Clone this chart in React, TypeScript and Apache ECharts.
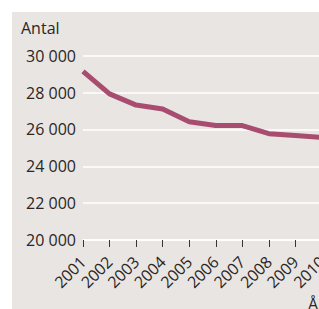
import React, { useEffect, useRef } from "react";
import * as echarts from "echarts";

const years = ["2001", "2002", "2003", "2004", "2005", "2006", "2007", "2008", "2009", "2010"];
const antal = [29150, 27930, 27320, 27110, 26420, 26210, 26210, 25770, 25670, 25560];
const yTicks = [20000, 22000, 24000, 26000, 28000, 30000];

const FONT = "'Open Sans', 'Noto Sans', sans-serif";
const TEXT = "#2b2523";

export default function App() {
  const ref = useRef<HTMLDivElement>(null);
  useEffect(() => {
    if (!ref.current) return;
    const chart = echarts.init(ref.current, undefined, { renderer: "svg" });
    chart.setOption({
      animation: false,
      backgroundColor: "#e8e5e2",
      textStyle: { fontFamily: FONT },
      grid: { left: 71, top: 43.7, right: 20, bottom: 82 },
      graphic: [
        { type: "text", left: 9, top: 8, style: { text: "Antal", fontSize: 16, fontFamily: FONT, fill: TEXT } },
        { type: "text", left: 296, top: 284, style: { text: "År", fontSize: 16, fontFamily: FONT, fill: TEXT } },
      ],
      xAxis: {
        type: "category",
        data: years,
        boundaryGap: false,
        axisLine: { show: true, lineStyle: { color: "#ffffff", width: 1.5 } },
        axisTick: { show: true, length: 7, lineStyle: { color: "#3a3532", width: 1 } },
        axisLabel: { rotate: 45, fontSize: 16, color: TEXT, margin: 19, fontFamily: FONT, interval: 0 },
        splitLine: { show: false },
      },
      yAxis: {
        type: "value",
        min: yTicks[0],
        max: yTicks[yTicks.length - 1],
        interval: 2000,
        axisLine: { show: false },
        axisTick: { show: false },
        axisLabel: {
          fontSize: 16,
          color: TEXT,
          margin: 7,
          fontFamily: FONT,
          formatter: (v: number) => String(v).replace(/\B(?=(\d{3})+(?!\d))/g, " "),
        },
        splitLine: { lineStyle: { color: "#ffffff", width: 1.5 } },
      },
      series: [
        {
          type: "line",
          data: antal,
          symbol: "none",
          lineStyle: { color: "#a84d70", width: 5 },
        },
      ],
    });
    return () => chart.dispose();
  }, []);
  return (
    <div style={{ position: "fixed", left: 0, top: 0, width: 319, height: 309, overflow: "hidden", background: "#ffffff" }}>
      <div ref={ref} style={{ position: "absolute", left: 12, top: 12, width: 330, height: 310 }} />
    </div>
  );
}
